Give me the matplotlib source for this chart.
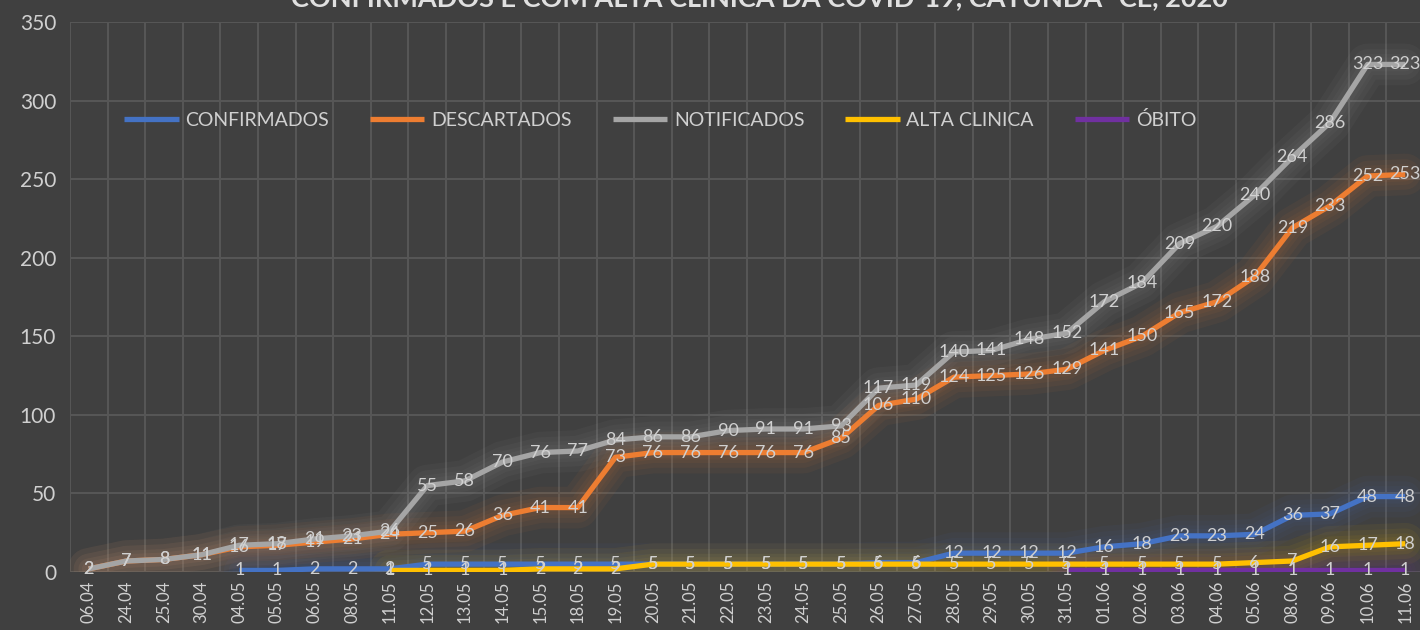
import numpy as np
import matplotlib.pyplot as plt

plt.rcParams['font.family'] = ['Lato', 'DejaVu Sans']

# datas (eixo x)
datas = ['06.04', '24.04', '25.04', '30.04', '04.05', '05.05', '06.05', '08.05',
         '11.05', '12.05', '13.05', '14.05', '15.05', '18.05', '19.05', '20.05',
         '21.05', '22.05', '23.05', '24.05', '25.05', '26.05', '27.05', '28.05',
         '29.05', '30.05', '31.05', '01.06', '02.06', '03.06', '04.06', '05.06',
         '08.06', '09.06', '10.06', '11.06']

nan = np.nan
confirmados = [nan, nan, nan, nan, 1, 1, 2, 2, 2, 5, 5, 5, 5, 5, 5, 5, 5, 5, 5, 5,
               5, 6, 6, 12, 12, 12, 12, 16, 18, 23, 23, 24, 36, 37, 48, 48]
descartados = [2, 7, 8, 11, 16, 17, 19, 21, 24, 25, 26, 36, 41, 41, 73, 76, 76, 76,
               76, 76, 85, 106, 110, 124, 125, 126, 129, 141, 150, 165, 172, 188,
               219, 233, 252, 253]
notificados = [2, 7, 8, 11, 17, 18, 21, 23, 26, 55, 58, 70, 76, 77, 84, 86, 86, 90,
               91, 91, 93, 117, 119, 140, 141, 148, 152, 172, 184, 209, 220, 240,
               264, 286, 323, 323]
alta_clinica = [nan] * 8 + [1, 1, 1, 1, 2, 2, 2] + [5] * 16 + [6, 7, 16, 17, 18]
obito = [nan] * 26 + [1] * 10

series = [
    ('CONFIRMADOS', confirmados, '#4472C4'),
    ('DESCARTADOS', descartados, '#ED7D31'),
    ('NOTIFICADOS', notificados, '#A5A5A5'),
    ('ALTA CLINICA', alta_clinica, '#FFC000'),
    ('ÓBITO', obito, '#7030A0'),
]

bg = '#404040'
txt = '#d0d0d0'

fig = plt.figure(figsize=(14.2, 6.3), dpi=100, facecolor=bg)
ax = fig.add_axes([70 / 1420, 1 - 572 / 630, 1354 / 1420, 550 / 630])
ax.set_facecolor(bg)

x = np.arange(len(datas))

# brilho em volta das linhas
for nome, y, cor in series:
    for lw in [30, 22, 15, 10]:
        ax.plot(x, y, color=cor, lw=lw, alpha=0.055, solid_capstyle='round',
                solid_joinstyle='round', zorder=2)

for nome, y, cor in series:
    ax.plot(x, y, color=cor, lw=3.8, label=nome, solid_capstyle='butt', zorder=3)

# rótulos de dados
for nome, y, cor in series:
    for xi, yi in zip(x, y):
        if np.isnan(yi):
            continue
        ax.text(xi, yi, str(int(yi)), ha='center', va='center', fontsize=13,
                color=txt, zorder=5)

ax.set_xlim(-0.5, len(datas) - 0.5)
ax.set_ylim(0, 350)
ax.set_yticks(np.arange(0, 351, 50))
ax.set_xticks(x)
ax.set_xticklabels(datas, rotation=90)
ax.set_xticks(np.arange(-0.5, len(datas), 1), minor=True)
ax.tick_params(axis='x', which='both', length=0, labelsize=12, colors=txt, pad=6)
ax.tick_params(axis='y', length=0, labelsize=15, colors=txt, pad=10)
ax.grid(which='minor', axis='x', color='#575757', lw=1.4)
ax.grid(which='major', axis='y', color='#575757', lw=1.4)
ax.grid(which='major', axis='x', visible=False)
ax.set_axisbelow(True)
for s in ax.spines.values():
    s.set_visible(False)

leg = ax.legend(loc='center left', bbox_to_anchor=(0.04, 0.822), ncol=5,
                frameon=False, fontsize=14, handlelength=2.8, handletextpad=0.35,
                columnspacing=2.1, borderpad=0, borderaxespad=0)
for t in leg.get_texts():
    t.set_color(txt)

fig.text(0.5345, 1 - 6 / 630, 'CONFIRMADOS E COM ALTA CLINICA DA COVID-19, CATUNDA- CE, 2020',
         ha='center', va='baseline', fontsize=19.5, fontweight='bold', color='#e0e0e0')

fig.savefig('out.png', dpi=100, facecolor=bg)
